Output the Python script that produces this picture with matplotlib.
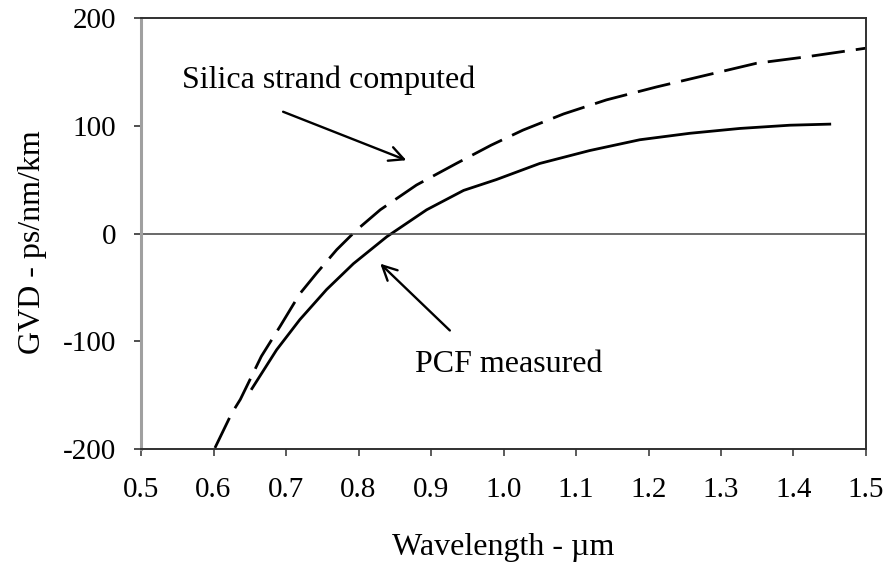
import numpy as np
import matplotlib
matplotlib.use("Agg")
from matplotlib import pyplot as plt

plt.rcParams['font.family'] = ['Liberation Serif', 'DejaVu Serif']
plt.rcParams['axes.unicode_minus'] = False

# silica strand computed (dashed)
silica_wl = [0.602, 0.625, 0.637, 0.666, 0.692, 0.719, 0.742, 0.770, 0.797,
             0.830, 0.880, 0.935, 0.983, 1.027, 1.083, 1.142, 1.211, 1.280,
             1.349, 1.418, 1.500]
silica_gvd = [-199, -167, -154, -114, -86, -56, -37, -15, 3,
              22, 45, 65, 82, 96, 111, 124, 136, 147,
              158, 164, 172]

# PCF measured (solid)
pcf_wl = [0.653, 0.687, 0.719, 0.756, 0.793, 0.839, 0.894, 0.945, 0.990,
          1.050, 1.119, 1.188, 1.257, 1.326, 1.395, 1.450]
pcf_gvd = [-144, -108, -80, -52, -28, -3, 22, 40, 50,
           65, 77, 87, 93, 97.5, 100.5, 101.5]

xticks = [0.5, 0.6, 0.7, 0.8, 0.9, 1.0, 1.1, 1.2, 1.3, 1.4, 1.5]
yticks = [-200, -100, 0, 100, 200]

fig = plt.figure(figsize=(8.86, 5.65), dpi=100)
ax = fig.add_axes([141/886, 1-449/565, 725/886, 431/565])

ax.plot(silica_wl, silica_gvd, color='black', lw=2.0, dashes=(12, 4))
ax.plot(pcf_wl, pcf_gvd, color='black', lw=2.0)
ax.axhline(0, color='#404040', lw=1.1)

ax.set_xlim(0.5, 1.5)
ax.set_ylim(-200, 200)
ax.set_xticks(xticks)
ax.set_xticklabels(['%.1f' % v for v in xticks])
ax.set_yticks(yticks)

for s in ['top', 'right', 'bottom']:
    ax.spines[s].set_color('#303030')
    ax.spines[s].set_linewidth(1.4)
ax.spines['left'].set_color('#a0a0a0')
ax.spines['left'].set_linewidth(2.2)

ax.tick_params(axis='x', direction='out', length=5, width=1.2, color='#404040',
               labelsize=21, pad=15)
ax.tick_params(axis='y', direction='out', length=5, width=1.2, color='#303030',
               labelsize=21, pad=13)

ax.set_xlabel('Wavelength - \u00b5m', fontsize=23)
ax.set_ylabel('GVD - ps/nm/km', fontsize=23)
ax.xaxis.set_label_coords(0.5, -0.195)
ax.yaxis.set_label_coords(-0.13, 0.48)

arrow = dict(arrowstyle='->', color='black', lw=1.7,
             mutation_scale=26, shrinkA=0, shrinkB=0)
ax.annotate('', xy=(0.866, 68), xytext=(0.696, 113), arrowprops=arrow)
ax.annotate('', xy=(0.830, -28), xytext=(0.926, -90), arrowprops=arrow)
ax.text(0.556, 135, 'Silica strand computed', fontsize=23,
        ha='left', va='baseline')
ax.text(0.878, -129, 'PCF measured', fontsize=23, ha='left', va='baseline')

fig.savefig('out.png', dpi=100)
